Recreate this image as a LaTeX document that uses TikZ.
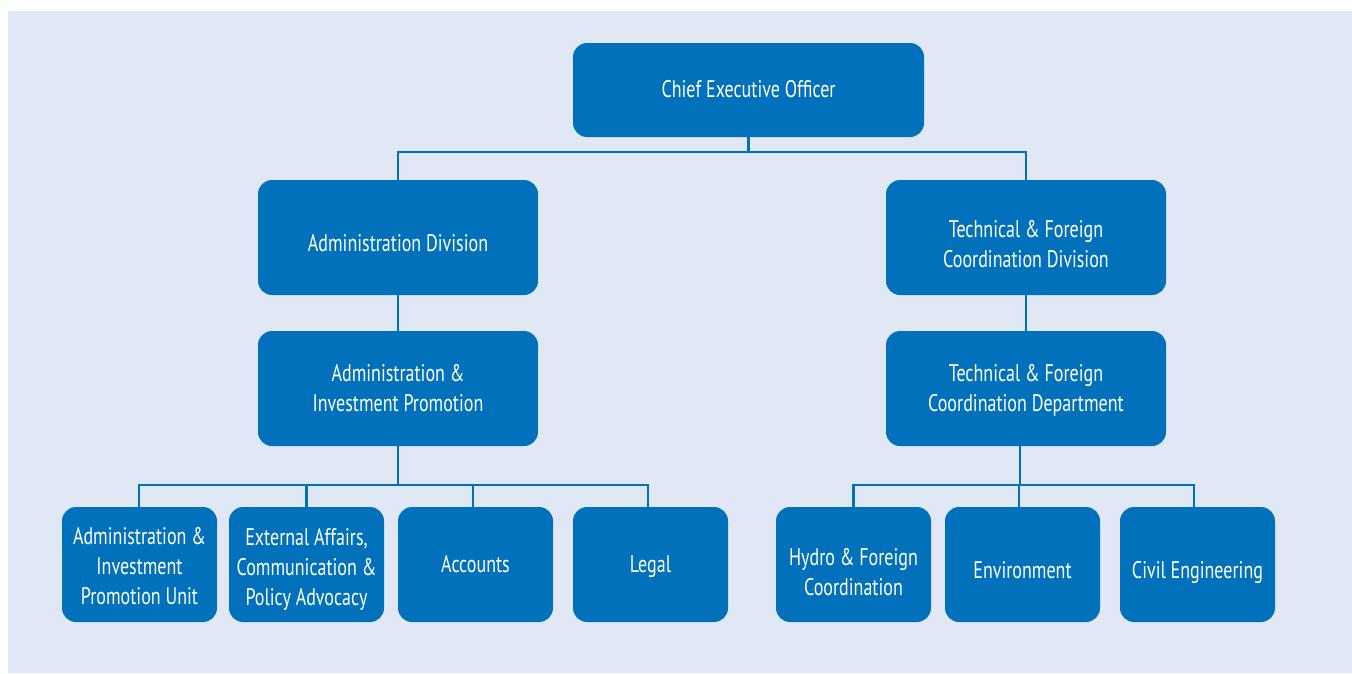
\documentclass[tikz,border=0pt]{standalone}
\usepackage{fontspec}
\setmainfont[FakeStretch=0.75]{PT Sans}
\definecolor{orgblue}{RGB}{0,113,186}
\definecolor{panel}{RGB}{225,232,245}
% lower a block of centred lines without changing its reported size
\newcommand\droptext[2]{\raisebox{-#1}[\height][\depth]{\begin{tabular}{@{}c@{}}#2\end{tabular}}}
\begin{document}
\begin{tikzpicture}[x=1pt,y=-1pt,
  unitbox/.style={fill=orgblue, rounded corners=14pt, inner sep=0pt,
    text=white, align=center, font=\fontsize{24}{30}\selectfont},
  bigbox/.style={unitbox, minimum width=280pt, minimum height=115pt},
  smallbox/.style={unitbox, minimum width=155pt, minimum height=115pt},
  link/.style={draw=orgblue, line width=2.3pt}]
\useasboundingbox (0,0) rectangle (1352,673);
\fill[panel] (8,11) rectangle (1352,673);

% top level
\node[unitbox, minimum width=351pt, minimum height=94pt] (ceo) at (748.5,90) {\droptext{1pt}{Chief Executive Officer}};

% divisions
\node[bigbox] (admdiv) at (398,237.5) {\droptext{8pt}{Administration Division}};
\node[bigbox] (techdiv) at (1026,237.5) {\droptext{9pt}{Technical \& Foreign\\Coordination Division}};

% departments
\node[bigbox] (admdep) at (398,388.5) {\droptext{1.5pt}{Administration \&\\Investment Promotion}};
\node[bigbox] (techdep) at (1026,388.5) {\droptext{1.5pt}{Technical \& Foreign\\Coordination Department}};

% units
\node[smallbox] (aipu) at (139.5,564.5) {\droptext{4pt}{Administration \&\\Investment\\Promotion Unit}};
\node[smallbox] (ext) at (306.5,564.5) {\droptext{4.5pt}{External Affairs,\\Communication \&\\Policy Advocacy}};
\node[smallbox] (acc) at (475.5,564.5) {\droptext{2pt}{Accounts}};
\node[smallbox] (legal) at (650.5,564.5) {\droptext{2pt}{Legal}};
\node[smallbox] (hydro) at (853.5,564.5) {\droptext{10pt}{Hydro \& Foreign\\Coordination}};
\node[smallbox] (env) at (1022.5,564.5) {\droptext{8pt}{Environment}};
\node[smallbox] (civil) at (1197.5,564.5) {\droptext{8pt}{Civil Engineering}};

% bus levels
\coordinate (topbus) at (0,152);
\coordinate (lowbus) at (0,485);

% connectors
\draw[link] (ceo.south) -- (ceo.south |- topbus);
\draw[link] (admdiv.north) -- (admdiv.north |- topbus) -- (techdiv.north |- topbus) -- (techdiv.north);
\draw[link] (admdiv.south) -- (admdep.north);
\draw[link] (techdiv.south) -- (techdep.north);

\draw[link] (admdep.south) -- (admdep.south |- lowbus);
\draw[link] ([xshift=-0.5pt]aipu.north) -- ([xshift=-0.5pt]aipu.north |- lowbus) -- ([xshift=-2.5pt]legal.north |- lowbus) -- ([xshift=-2.5pt]legal.north);
\draw[link] (ext.north) -- (ext.north |- lowbus);
\draw[link] ([xshift=-2.5pt]acc.north) -- ([xshift=-2.5pt]acc.north |- lowbus);

\draw[link] ([xshift=-6pt]techdep.south) -- ([xshift=-6pt]techdep.south |- lowbus);
\draw[link] (hydro.north) -- (hydro.north |- lowbus) -- ([xshift=-3.5pt]civil.north |- lowbus) -- ([xshift=-3.5pt]civil.north);
\draw[link] ([xshift=-3.5pt]env.north) -- ([xshift=-3.5pt]env.north |- lowbus);
\end{tikzpicture}
\end{document}
